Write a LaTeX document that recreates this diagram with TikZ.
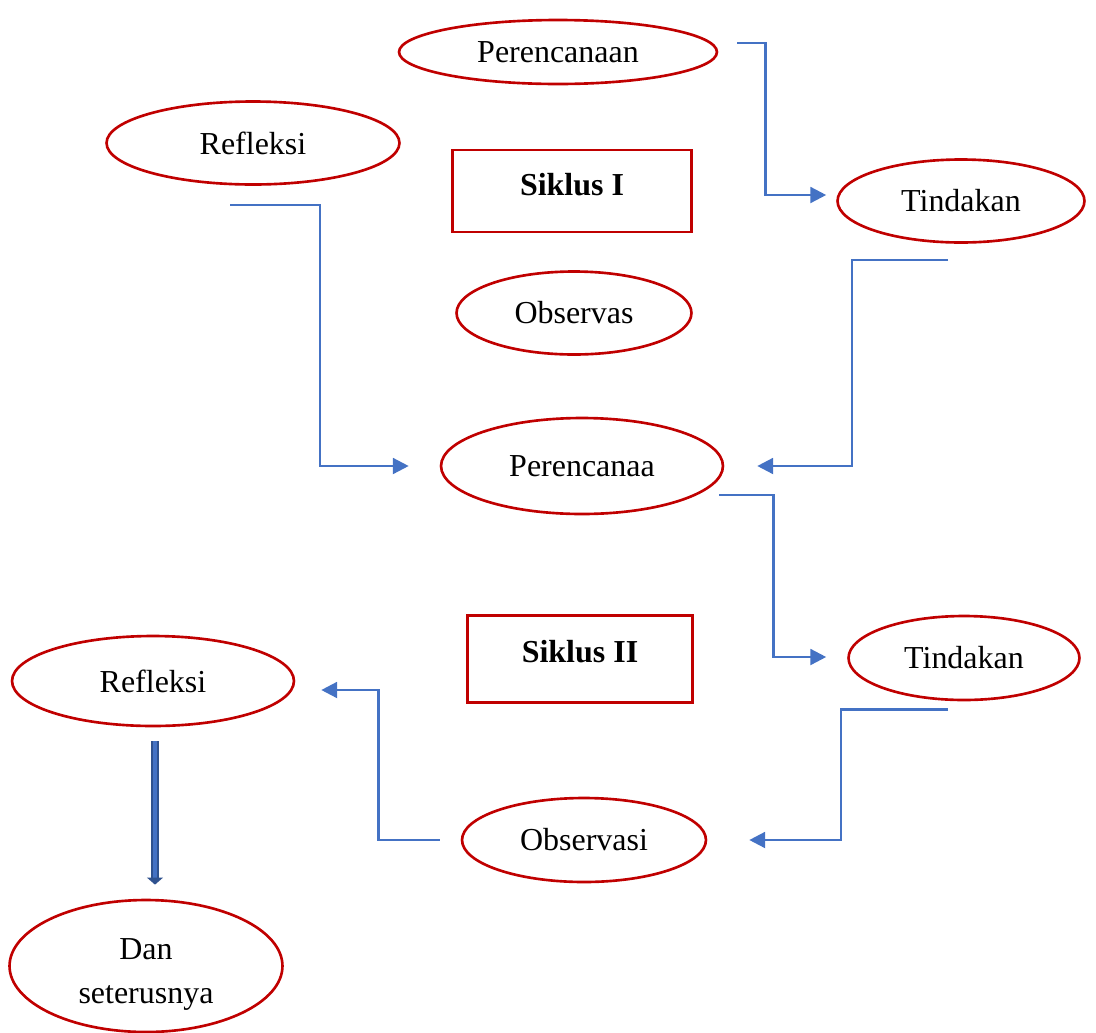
\documentclass[tikz,border=0pt]{standalone}
\usepackage{fontspec}
\setmainfont{Liberation Serif}
\usetikzlibrary{arrows.meta,positioning,calc,shapes.geometric}
\definecolor{siklusred}{HTML}{C00000}
\definecolor{linkblue}{HTML}{4472C4}
\definecolor{linkdark}{HTML}{2F528F}
\begin{document}
\begin{tikzpicture}[x=0.02cm,y=-0.02cm,
  font=\fontsize{18.2}{25}\selectfont,
  step oval/.style={ellipse,draw=siklusred,line width=1.5pt,inner sep=0pt},
  cycle box/.style={rectangle,draw=siklusred,line width=1.2pt,inner sep=0pt,font=\fontsize{18.2}{25}\selectfont\bfseries},
  link/.style={draw=linkblue,line width=1.4pt,-{Triangle[length=9pt,width=9pt]}}]
\useasboundingbox (0,0) rectangle (1096,1032);
% siklus I
\node (plan1) [step oval,minimum width=6.36cm,minimum height=1.28cm] at (558,52) {Perencanaan};
\node (refl1) [step oval,minimum width=5.86cm,minimum height=1.66cm] at (253,143) {Refleksi};
\node (cyc1) [cycle box,minimum width=4.78cm,minimum height=1.64cm] at (572,191) {\raisebox{7pt}{Siklus I}};
\node (act1) [step oval,minimum width=4.94cm,minimum height=1.66cm] at (961,201) {\raisebox{-1.5pt}{Tindakan}};
\node (obs1) [step oval,minimum width=4.70cm,minimum height=1.66cm] at (574,313) {Observas};
% siklus II
\node (plan2) [step oval,minimum width=5.64cm,minimum height=1.92cm] at (582,466) {Perencanaa};
\node (cyc2) [cycle box,minimum width=4.50cm,minimum height=1.74cm] at (580,659) {\raisebox{9pt}{Siklus II}};
\node (act2) [step oval,minimum width=4.62cm,minimum height=1.68cm] at (964,658) {Tindakan};
\node (refl2) [step oval,minimum width=5.64cm,minimum height=1.80cm] at (153,681) {Refleksi};
\node (obs2) [step oval,minimum width=4.88cm,minimum height=1.68cm] at (584,840) {Observasi};
\node (next) [step oval,minimum width=5.46cm,minimum height=2.64cm] at (146,966)
  {\raisebox{-4pt}[\height][\depth]{\begin{tabular}{@{}c@{}}Dan\\seterusnya\end{tabular}}};
%
\coordinate (plan1out) at ($(plan1.east)+(19,-9)$);
\coordinate (act1in) at ($(act1.west)+(-10,-6)$);
\coordinate (refl1out) at ($(refl1.south)+(-23,19)$);
\coordinate (plan2w) at ($(plan2.west)+(-31,0)$);
\coordinate (act1out) at ($(act1.south)+(-13,16)$);
\coordinate (plan2e) at ($(plan2.east)+(33,0)$);
\coordinate (plan2out) at ($(plan2.east)+(-5,29)$);
\coordinate (act2in) at ($(act2.west)+(-21,-1)$);
\coordinate (act2out) at ($(act2.south)+(-16,8)$);
\coordinate (obs2in) at ($(obs2.east)+(42,0)$);
\coordinate (obs2out) at ($(obs2.west)+(-21,0)$);
\coordinate (refl2in) at ($(refl2.east)+(26,9)$);
%
\path[link] (plan1out) -- ++(28,0) |- (act1in);
\path[link] (refl1out) -- ++(90,0) |- (plan2w);
\path[link] (act1out) -- ++(-96,0) |- (plan2e);
\path[link] (plan2out) -- ++(54,0) |- (act2in);
\path[link] (act2out) -- ++(-107,0) |- (obs2in);
\path[link] (obs2out) -- ++(-61,0) |- (refl2in);
\draw[draw=linkdark,line width=0.6pt,double=linkblue,double distance=2.8pt,
  -{Triangle[length=4pt,width=9pt]},shorten >=8pt]
  ([xshift=0.04cm,yshift=-0.28cm]refl2.south) -- ([xshift=0.04cm]refl2.south |- next.north);
\end{tikzpicture}
\end{document}
